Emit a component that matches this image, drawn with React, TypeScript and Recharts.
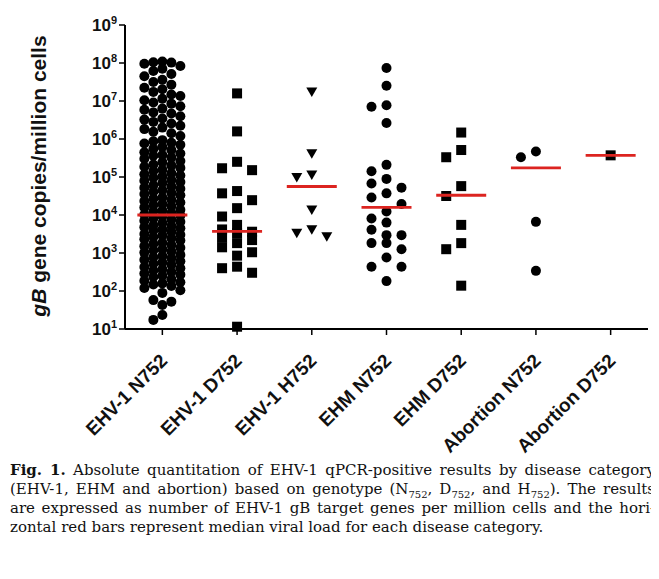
import React from "react";
import { ScatterChart, Scatter, XAxis, YAxis } from "recharts";

const categories = [
  "EHV-1 N752",
  "EHV-1 D752",
  "EHV-1 H752",
  "EHM N752",
  "EHM D752",
  "Abortion N752",
  "Abortion D752",
];

// log10(gB copies / million cells)
const ehv1N752 = [
  8.04, 8.02, 8.01, 7.98, 7.92, 7.85, 7.79, 7.71, 7.65, 7.56, 7.5, 7.43, 7.35,
  7.31, 7.24, 7.17, 7.13, 7.06, 7.02, 6.96, 6.93, 6.86, 6.8, 6.77, 6.7, 6.67,
  6.6, 6.54, 6.51, 6.45, 6.41, 6.35, 6.3, 6.26, 6.19, 6.15, 6.08,
  5.97, 5.94, 5.9, 5.88, 5.85, 5.79, 5.74, 5.71, 5.65, 5.62, 5.58, 5.56, 5.51,
  5.48, 5.42, 5.39, 5.33, 5.3, 5.27, 5.24, 5.19, 5.16, 5.1, 5.07, 5.04, 5.01,
  4.98, 4.92, 4.9, 4.87, 4.84, 4.78, 4.75, 4.72, 4.69, 4.65, 4.61, 4.58, 4.55,
  4.52, 4.46, 4.43, 4.4, 4.37, 4.33, 4.29, 4.26, 4.23, 4.2, 4.14, 4.12, 4.1,
  4.05, 4.01, 3.99, 3.97, 3.91, 3.88, 3.85, 3.82, 3.79, 3.73, 3.71, 3.68, 3.65,
  3.62, 3.59, 3.56, 3.5, 3.48, 3.46, 3.42, 3.39, 3.36, 3.33, 3.27, 3.24, 3.21,
  3.18, 3.14, 3.1, 3.07, 3.04, 3.01, 2.95, 2.92, 2.89, 2.86, 2.82, 2.78, 2.75,
  2.72, 2.69, 2.63, 2.6, 2.57, 2.54, 2.5, 2.46, 2.43, 2.4, 2.37, 2.31, 2.27,
  2.23, 2.2, 2.17, 2.13, 2.08,
  2.02, 1.95, 1.76, 1.72, 1.63, 1.37, 1.24,
];
const ehv1D752 = [
  7.2, 6.2, 5.4, 5.23, 5.18, 4.63, 4.57, 4.39, 4.18, 3.96, 3.74, 3.62, 3.56,
  3.52, 3.4, 3.34, 3.26, 3.15, 3.02, 2.93, 2.64, 2.6, 2.48, 1.06,
];
const ehv1H752 = [7.24, 5.61, 5.05, 4.99, 4.13, 3.61, 3.52, 3.43];
const ehmN752 = [
  7.87, 7.4, 6.89, 6.85, 6.42, 5.32, 5.15, 4.95, 4.83, 4.72, 4.57, 4.46, 4.29,
  4.09, 3.91, 3.8, 3.61, 3.47, 3.47, 3.26, 3.26, 3.1, 2.88, 2.64, 2.64, 2.26,
];
const ehmD752 = [6.17, 5.71, 5.52, 4.76, 4.5, 3.74, 3.26, 3.1, 2.14];
const abortionN752 = [5.67, 5.52, 3.82, 2.53];
const abortionD752 = [5.57];

// median viral load per group (red bars), log10
const medians = [4.0, 3.57, 4.75, 4.2, 4.52, 5.24, 5.57];

const yTicks = [1, 2, 3, 4, 5, 6, 7, 8, 9];
const xTicks = [0, 1, 2, 3, 4, 5, 6];

const groups = [ehv1N752, ehv1D752, ehv1H752, ehmN752, ehmD752, abortionN752, abortionD752];
const markers = ["circle", "square", "triangle", "circle", "square", "circle", "square"];
const medianData = medians.map((m, i) => ({ x: i, y: m }));

const W = 659;
const H = 460;
const PLOT_W = 523;
const PLOT_H = 304;
const FONT = "'Liberation Sans', Arial, sans-serif";

// simple column scatter (Prism style): stack points sideways when they collide
function swarm(values: number[], idx: number, colPx: number, gap: number, maxCol: number) {
  const pxX = PLOT_W / 7;
  const pxY = PLOT_H / 8;
  const order = [0];
  for (let k = 1; k <= maxCol; k++) order.push(-k, k);
  const last: Record<number, number> = {};
  return [...values]
    .sort((a, b) => b - a)
    .map((v) => {
      const y = (9 - v) * pxY;
      let pick = order.find((c) => last[c] === undefined || y - last[c] >= gap);
      if (pick === undefined) {
        pick = order.reduce((best, c) => (y - last[c] > y - last[best] ? c : best), order[0]);
      }
      last[pick] = y;
      return { x: idx + (pick * colPx) / pxX, y: v };
    });
}

const Marker = ({ cx, cy, kind }: any) => {
  if (cx == null || cy == null) return null;
  if (kind === "square") return <rect x={cx - 5} y={cy - 5} width={10} height={10} fill="#000" />;
  if (kind === "triangle")
    return <path d={`M${cx - 5.5},${cy - 4.5}L${cx + 5.5},${cy - 4.5}L${cx},${cy + 5}Z`} fill="#000" />;
  return <circle cx={cx} cy={cy} r={5} fill="#000" />;
};

const MedianBar = ({ cx, cy }: any) =>
  cx == null ? null : <line x1={cx - 25} x2={cx + 25} y1={cy} y2={cy} stroke="#dc2420" strokeWidth={2.8} />;

const PowerTick = ({ x, y, payload }: any) => (
  <text x={x} y={y} dy={6} textAnchor="end" fontFamily={FONT} fontWeight="bold" fontSize={17} fill="#111">
    10
    <tspan dy={-7} fontSize={11}>
      {payload.value}
    </tspan>
  </text>
);

const CategoryTick = ({ x, y, payload }: any) => (
  <text
    transform={`translate(${x + 6},${y + 25}) rotate(-45)`}
    textAnchor="end"
    fontFamily={FONT}
    fontWeight="bold"
    fontSize={19}
    fill="#111"
  >
    {categories[payload.value]}
  </text>
);

const sub = { fontSize: 10, verticalAlign: "sub", lineHeight: 0 } as React.CSSProperties;
const justified = { width: 645, textAlign: "justify", textAlignLast: "justify" } as React.CSSProperties;

export default function App() {
  return (
    <div style={{ margin: -8, width: W, height: 579, background: "#ececec", position: "relative", overflow: "hidden" }}>
      <div style={{ position: "absolute", left: 8, top: 8, right: 0, bottom: 0, background: "#fff" }} />
      <div style={{ position: "absolute", left: 0, top: 0 }}>
        <ScatterChart width={W} height={H} margin={{ top: 25, right: 11, bottom: 0, left: 0 }}>
          <XAxis
            type="number"
            dataKey="x"
            domain={[-0.5, 6.5]}
            ticks={xTicks}
            interval={0}
            height={131}
            tick={<CategoryTick />}
            tickSize={6}
            tickMargin={2}
            axisLine={{ stroke: "#000", strokeWidth: 2 }}
            tickLine={{ stroke: "#000", strokeWidth: 1.5 }}
          />
          <YAxis
            type="number"
            dataKey="y"
            domain={[1, 9]}
            ticks={yTicks}
            interval={0}
            width={125}
            tick={<PowerTick />}
            tickSize={6}
            tickMargin={2}
            axisLine={{ stroke: "#000", strokeWidth: 2 }}
            tickLine={{ stroke: "#000", strokeWidth: 1.5 }}
          />
          {groups.map((g, i) => (
            <Scatter
              key={categories[i]}
              data={i === 0 ? swarm(g, i, 9, 9, 2) : swarm(g, i, 15, 11, 1)}
              isAnimationActive={false}
              shape={(p: any) => <Marker cx={p.cx} cy={p.cy} kind={markers[i]} />}
            />
          ))}
          <Scatter
            data={medianData}
            isAnimationActive={false}
            shape={(p: any) => <MedianBar cx={p.cx} cy={p.cy} />}
          />
        </ScatterChart>
      </div>
      <svg width={80} height={340} style={{ position: "absolute", left: 0, top: 0 }}>
        <text
          transform="translate(46,176) rotate(-90)"
          textAnchor="middle"
          fontFamily={FONT}
          fontWeight="bold"
          fontSize={21}
          fill="#111"
        >
          <tspan fontStyle="italic">gB</tspan> gene copies/million cells
        </text>
      </svg>
      <div
        style={{
          position: "absolute",
          left: 10,
          top: 461,
          fontFamily: "'DejaVu Serif', serif",
          fontSize: 15,
          lineHeight: "19px",
          color: "#111",
        }}
      >
        <div style={justified}>
          <b>Fig. 1.</b> Absolute quantitation of EHV-1 qPCR-positive results by disease category
        </div>
        <div style={justified}>
          (EHV-1, EHM and abortion) based on genotype (N<span style={sub}>752</span>, D<span style={sub}>752</span>, and H
          <span style={sub}>752</span>). The results
        </div>
        <div style={justified}>are expressed as number of EHV-1 gB target genes per million cells and the hori-</div>
        <div>zontal red bars represent median viral load for each disease category.</div>
      </div>
    </div>
  );
}
